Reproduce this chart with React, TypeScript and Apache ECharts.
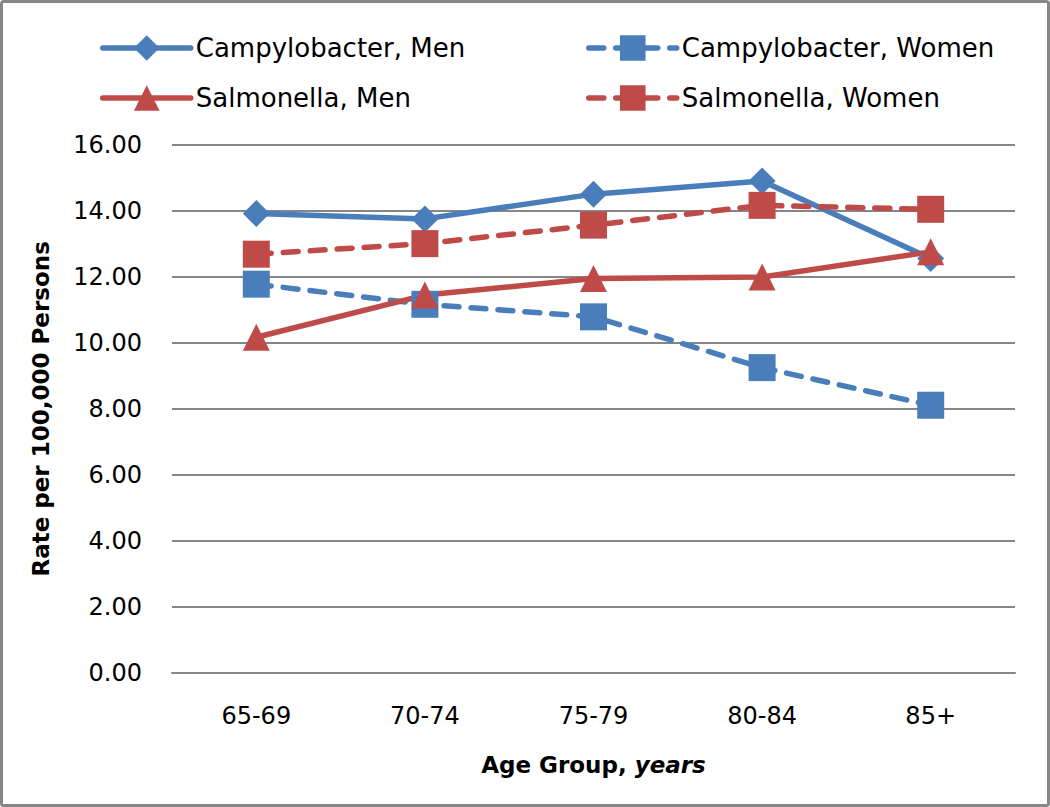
import React, { useEffect, useRef } from "react";
import * as echarts from "echarts";

const categories = ["65-69", "70-74", "75-79", "80-84", "85+"];
const campyMen = [13.92, 13.76, 14.51, 14.91, 12.56];
const campyWomen = [11.78, 11.17, 10.79, 9.25, 8.11];
const salmMen = [10.17, 11.45, 11.95, 12.0, 12.76];
const salmWomen = [12.69, 13.01, 13.57, 14.17, 14.05];

const BLUE = "#4A7EBB";
const RED = "#BE4B48";
const FONT = "DejaVu Sans";
const DASH = [15, 12];

export default function App() {
  const ref = useRef<HTMLDivElement>(null);
  useEffect(() => {
    if (!ref.current) return;
    const chart = echarts.init(ref.current, undefined, { renderer: "svg" });
    const mk = (name: string, data: number[], color: string, symbol: string, dashed: boolean) => ({
      name,
      type: "line",
      data,
      symbol,
      symbolSize: 27,
      itemStyle: { color },
      lineStyle: {
        color,
        width: 5.5,
        type: dashed ? DASH : "solid",
        cap: "round",
      },
      emphasis: { disabled: true },
    });
    const legendCommon = {
      orient: "vertical",
      top: 35,
      padding: 0,
      itemWidth: 88,
      itemHeight: 32,
      itemGap: 24,
      lineStyle: { width: 5.5 },
      textStyle: { fontFamily: FONT, fontSize: 26, color: "#000" },
      selectedMode: false,
    };
    chart.setOption({
      animation: false,
      backgroundColor: "#fff",
      graphic: [
        {
          type: "rect",
          shape: { x: 1.5, y: 1.5, width: 1047, height: 804, r: 2 },
          style: { fill: "none", stroke: "#878787", lineWidth: 3 },
          silent: true,
        },
      ],
      legend: [
        { ...legendCommon, left: 100, data: ["Campylobacter, Men", "Salmonella, Men"] },
        { ...legendCommon, left: 586, data: ["Campylobacter, Women", "Salmonella, Women"] },
      ],
      grid: { left: 172, right: 35, top: 145, bottom: 134.3, containLabel: false },
      xAxis: {
        type: "category",
        data: categories,
        boundaryGap: true,
        axisLine: { show: true, lineStyle: { color: "#868686", width: 2 } },
        axisTick: { show: false },
        axisLabel: { fontFamily: FONT, fontSize: 24, color: "#000", margin: 31 },
        name: "{b|Age Group, }{i|years}",
        nameLocation: "middle",
        nameGap: 81,
        nameTextStyle: {
          rich: {
            b: { fontFamily: FONT, fontSize: 23, fontWeight: "bold", color: "#000" },
            i: { fontFamily: FONT, fontSize: 23, fontWeight: "bold", fontStyle: "italic", color: "#000" },
          },
        },
      },
      yAxis: {
        type: "value",
        min: 0,
        max: 16,
        interval: 2,
        axisLine: { show: false },
        axisTick: { show: false },
        splitLine: { lineStyle: { color: "#868686", width: 2 } },
        axisLabel: {
          fontFamily: FONT,
          fontSize: 24,
          color: "#000",
          margin: 30,
          formatter: (v: number) => v.toFixed(2),
        },
        name: "Rate per 100,000 Persons",
        nameLocation: "middle",
        nameRotate: 90,
        nameGap: 120,
        nameTextStyle: { fontFamily: FONT, fontSize: 23, fontWeight: "bold", color: "#000" },
      },
      series: [
        mk("Campylobacter, Men", campyMen, BLUE, "diamond", false),
        mk("Campylobacter, Women", campyWomen, BLUE, "rect", true),
        mk("Salmonella, Men", salmMen, RED, "triangle", false),
        mk("Salmonella, Women", salmWomen, RED, "rect", true),
      ],
    });
    return () => chart.dispose();
  }, []);
  return (
    <div
      ref={ref}
      style={{ position: "absolute", left: 0, top: 0, width: 1050, height: 807 }}
    />
  );
}
